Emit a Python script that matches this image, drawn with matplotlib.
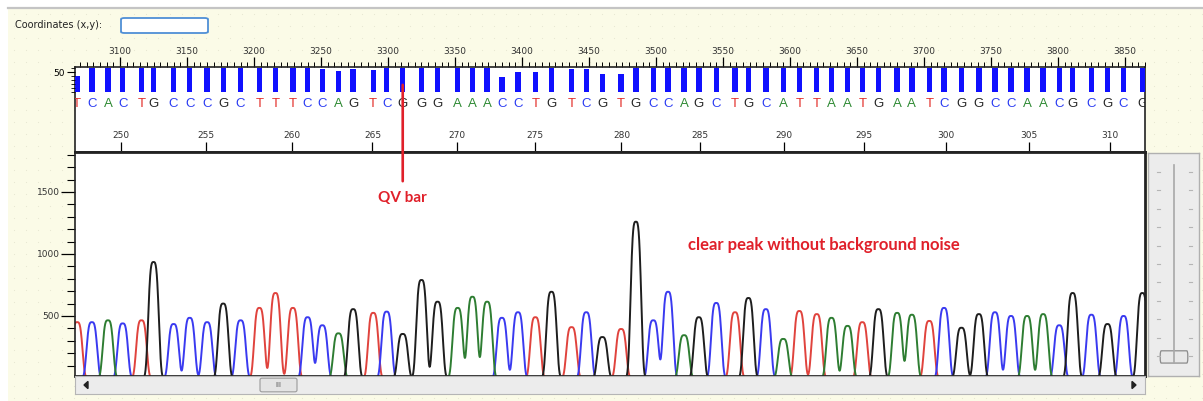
import numpy as np
import matplotlib
matplotlib.use("Agg")
import matplotlib.pyplot as plt
from matplotlib.ticker import MultipleLocator, NullLocator
from matplotlib.patches import Rectangle, FancyBboxPatch, Polygon
from matplotlib.lines import Line2D

W, H = 1203, 401

# base calls visible in the window (bases 247..312)
bases = list("TCACTGCCCGCTTTCCAGTCGGGAAACCTGTCGTGCCAGCTGCATTAATGAATCGGCCAACGCGCG")
base_numbers = list(range(247, 313))

# peak location of every base call, in scan units
peak_scans = [3068, 3079, 3091, 3102, 3116, 3125, 3140, 3152, 3165, 3177,
              3190, 3204, 3216, 3229, 3240, 3251, 3263, 3274, 3289, 3299,
              3311, 3325, 3337, 3352, 3363, 3374, 3385, 3397, 3410, 3422,
              3437, 3448, 3460, 3474, 3485, 3498, 3509, 3521, 3532, 3545,
              3559, 3569, 3582, 3595, 3607, 3620, 3631, 3643, 3654, 3666,
              3680, 3691, 3704, 3715, 3728, 3741, 3753, 3765, 3777, 3789,
              3801, 3811, 3825, 3837, 3849, 3863]

# signal intensity of each called peak
peak_heights = [450, 450, 465, 440, 465, 935, 435, 485, 450, 600,
                465, 565, 685, 565, 490, 425, 360, 555, 525, 535,
                355, 790, 615, 565, 655, 615, 485, 530, 490, 695,
                410, 530, 330, 395, 1260, 465, 695, 345, 490, 605,
                530, 645, 555, 315, 540, 515, 485, 420, 450, 555,
                525, 510, 460, 565, 405, 515, 530, 500, 500, 515,
                425, 685, 510, 435, 500, 685]

# quality values (QV bars)
qv_values = [40, 60, 60, 60, 60, 60, 60, 60, 60, 60,
             60, 60, 60, 60, 60, 57, 52, 57, 55, 59,
             60, 60, 60, 60, 60, 60, 38, 51, 51, 60,
             57, 58, 46, 46, 60, 60, 60, 60, 60, 60,
             60, 60, 60, 60, 60, 60, 60, 60, 60, 60,
             60, 60, 60, 60, 60, 60, 60, 60, 60, 60,
             60, 60, 60, 60, 60, 60]

base_colors = {"A": "#2f8a34", "C": "#2b3cf2", "G": "#262626", "T": "#e3302b"}
trace_colors = {"A": "#2e7d32", "C": "#3a3af0", "G": "#1e1e1e", "T": "#e0433d"}
qv_base = 267  # base the red marker points at
scan_lim = (3066.4, 3865)
peak_width = 4.5   # scans
peak_power = 3.5
RED = "#e0202a"
BG = "#fbfbe7"


def px_axes(x0, y0, x1, y1, **kw):
    return fig.add_axes([x0 / W, 1 - y1 / H, (x1 - x0) / W, (y1 - y0) / H], **kw)


fig = plt.figure(figsize=(W / 100, H / 100), dpi=100)
fig.patch.set_facecolor("white")

# window background with its faint dot pattern + frame line
ax_bg = px_axes(8, 9, W, H, zorder=-10)
ax_bg.set_facecolor(BG)
ax_bg.set_xlim(8, W)
ax_bg.set_ylim(H, 9)
ax_bg.axis("off")
ax_bg.add_patch(Rectangle((8, 9), W - 8, H - 9, facecolor=BG, edgecolor="none"))
gx, gy = np.meshgrid(np.arange(14, W, 12), np.arange(14, H, 12))
ax_bg.scatter(gx.ravel(), gy.ravel(), s=0.6, color="#e6e6d0", linewidths=0)
fig.add_artist(Line2D([8 / W, 1], [1 - 8 / H, 1 - 8 / H], color="#c4c4c4", lw=1.6))

fig.text(15 / W, 1 - 25 / H, "Coordinates (x,y):", fontsize=7, va="center", color="#222")
fig.patches.append(FancyBboxPatch((121 / W, 1 - 33 / H), 87 / W, 15 / H,
                                  boxstyle="round,pad=0,rounding_size=0.003",
                                  transform=fig.transFigure, facecolor="white",
                                  edgecolor="#4f8fd6", lw=1.3))

# ---- upper panel: scan ruler, QV bars, base calls, base numbers
ax_top = px_axes(75, 67, 1145, 152)
ax_top.set_facecolor("white")
ax_top.set_xlim(scan_lim)
ax_top.set_ylim(0, 1)
ax_top.set_yticks([])
ax_top.xaxis.tick_top()
ax_top.xaxis.set_major_locator(MultipleLocator(50))
ax_top.xaxis.set_minor_locator(MultipleLocator(5))
ax_top.tick_params(axis="x", which="major", direction="out", length=7, width=0.9,
                   labelsize=6.5, pad=1, labelcolor="#333")
ax_top.tick_params(axis="x", which="minor", direction="out", length=3.5, width=0.7)
for side, sp in ax_top.spines.items():
    sp.set_color("#222")
    sp.set_linewidth(1.2)
ax_top.spines["bottom"].set_linewidth(2)

for s, b in zip(peak_scans, bases):
    ax_top.text(s, 0.57, b, transform=ax_top.get_xaxis_transform(), ha="center",
                va="center", fontsize=9.5, color=base_colors[b],
                family=["Liberation Sans Narrow", "Liberation Sans", "DejaVu Sans"],
                clip_on=True)


def scan_to_base(x):
    return np.interp(x, peak_scans, base_numbers)


def base_to_scan(x):
    return np.interp(x, base_numbers, peak_scans)


sec = ax_top.secondary_xaxis("bottom", functions=(scan_to_base, base_to_scan))
sec.set_xticks(range(250, 311, 5))
sec.tick_params(axis="x", direction="in", length=7, width=0.9, pad=-15,
                labelsize=6.5, labelcolor="#333")
sec.spines["bottom"].set_visible(False)

ax_qv = px_axes(75, 67, 1145, 92)
ax_qv.set_facecolor("none")
ax_qv.bar(peak_scans, qv_values, width=4.0, color="#1010ff", align="center")
ax_qv.set_xlim(scan_lim)
ax_qv.set_ylim(0, 62.5)
ax_qv.xaxis.set_major_locator(NullLocator())
ax_qv.set_yticks([50])
ax_qv.yaxis.set_minor_locator(MultipleLocator(10))
ax_qv.tick_params(axis="y", which="major", direction="out", length=6, labelsize=6.5, pad=1)
ax_qv.tick_params(axis="y", which="minor", direction="out", length=3)
for sp in ax_qv.spines.values():
    sp.set_visible(False)

# ---- lower panel: four-colour trace
ax_tr = px_axes(75, 152, 1145, 376)
ax_tr.set_facecolor("white")
x = np.linspace(scan_lim[0] - 10, scan_lim[1] + 10, 4000)
for base in "TCAG":
    y = np.zeros_like(x)
    for s, b, h in zip(peak_scans, bases, peak_heights):
        if b == base:
            y += h * np.exp(-np.abs((x - s) / peak_width) ** peak_power)
    ax_tr.plot(x, y, color=trace_colors[base], lw=1.4)
ax_tr.set_xlim(scan_lim)
ax_tr.set_ylim(16, 1822)
ax_tr.xaxis.set_major_locator(NullLocator())
ax_tr.yaxis.set_major_locator(MultipleLocator(500))
ax_tr.yaxis.set_minor_locator(MultipleLocator(100))
ax_tr.tick_params(axis="y", which="major", direction="out", length=10, width=0.9,
                  labelsize=6.5, pad=1, labelcolor="#333")
ax_tr.tick_params(axis="y", which="minor", direction="out", length=6, width=0.8)
for side, sp in ax_tr.spines.items():
    sp.set_color("#222")
    sp.set_linewidth(2 if side != "left" else 1.2)

ax_tr.annotate("QV bar", xy=(peak_scans[base_numbers.index(qv_base)], 0.79),
               xycoords=ax_top.get_xaxis_transform(),
               xytext=(peak_scans[base_numbers.index(qv_base)], 0.795),
               textcoords=ax_tr.get_xaxis_transform(),
               ha="center", va="center", fontsize=11, fontweight="bold",
               family=["Lato", "DejaVu Sans"], color=RED, annotation_clip=False,
               arrowprops=dict(arrowstyle="-", color=RED, lw=1.9, shrinkA=5, shrinkB=0))
ax_tr.text(3625, 1075, "clear peak without background noise", ha="center", va="center",
           fontsize=12, fontweight="bold", family=["Lato", "DejaVu Sans"], color=RED)

# ---- horizontal scroll bar
ax_sb = px_axes(75, 376, 1145, 394)
ax_sb.set_facecolor("#ececec")
ax_sb.set_xlim(75, 1145)
ax_sb.set_ylim(0, 1)
ax_sb.set_xticks([])
ax_sb.set_yticks([])
for sp in ax_sb.spines.values():
    sp.set_color("#b5b5b5")
    sp.set_linewidth(0.8)
ax_sb.add_patch(Polygon([[88, 0.3], [88, 0.7], [84, 0.5]], closed=True, color="#222"))
ax_sb.add_patch(Polygon([[1132, 0.3], [1132, 0.7], [1136, 0.5]], closed=True, color="#222"))
ax_sb.add_patch(FancyBboxPatch((260, 0.12), 37, 0.76, boxstyle="round,pad=0,rounding_size=2",
                               facecolor="#e4e4e4", edgecolor="#9a9a9a", lw=0.8,
                               mutation_aspect=0.05))
ax_sb.text(278.5, 0.5, "III", ha="center", va="center", fontsize=5, color="#555")

# ---- vertical zoom slider
ax_sl = px_axes(1148, 153, 1199, 376)
ax_sl.set_facecolor("#ececec")
ax_sl.set_xlim(0, 1)
ax_sl.set_ylim(0, 1)
ax_sl.set_xticks([])
ax_sl.set_yticks([])
for sp in ax_sl.spines.values():
    sp.set_color("#b0b0b0")
    sp.set_linewidth(1)
ax_sl.plot([0.5, 0.5], [0.06, 0.945], color="#a8a8a8", lw=1.2)
for ty in np.linspace(0.09, 0.915, 11):
    ax_sl.plot([0.17, 0.23], [ty, ty], color="#b5b5b5", lw=0.8)
    ax_sl.plot([0.8, 0.86], [ty, ty], color="#b5b5b5", lw=0.8)
ax_sl.add_patch(FancyBboxPatch((0.24, 0.058), 0.54, 0.055, boxstyle="round,pad=0,rounding_size=0.02",
                               facecolor="#e8e8e8", edgecolor="#8c8c8c", lw=0.9))

fig.savefig("out.png", dpi=100, facecolor=fig.get_facecolor())
